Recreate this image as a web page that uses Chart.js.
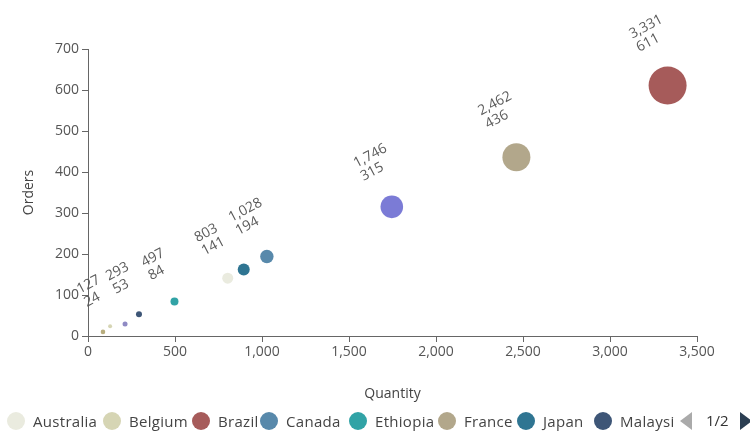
<!DOCTYPE html>
<html>
<head>
<meta charset="utf-8">
<script src="https://cdn.jsdelivr.net/npm/chart.js@4.4.0/dist/chart.umd.min.js"></script>
<style>
html,body{margin:0;padding:0;background:#fff;}
#wrap{position:relative;width:750px;height:437px;overflow:hidden;}
#c{position:absolute;left:0;top:0;}
#legend{position:absolute;left:0;top:409px;width:674px;height:24px;overflow:hidden;white-space:nowrap;font-family:"Open Sans",sans-serif;font-size:15px;letter-spacing:0.3px;color:#444;}
.item{position:absolute;top:0;height:24px;display:flex;align-items:center;}
.dot{width:18px;height:18px;border-radius:50%;margin-right:8px;flex:none;}
#pager{position:absolute;top:409px;left:678px;width:72px;height:24px;font-family:"Open Sans",sans-serif;font-size:15px;color:#333;}
#pager span{position:absolute;left:28px;top:1px;}
.tri{position:absolute;top:3px;width:0;height:0;border-top:9px solid transparent;border-bottom:9px solid transparent;}
#prev{left:2px;border-right:12px solid #aaaaaa;}
#next{left:62px;border-left:12px solid #2b3e52;}
</style>
</head>
<body>
<div id="wrap">
<canvas id="c" width="750" height="437"></canvas>
<div id="legend"></div>
<div id="pager"><div class="tri" id="prev"></div><span>1/2</span><div class="tri" id="next"></div></div>
</div>
<script>
// ---- data ----
const countries = ['Australia','Belgium','Brazil','Canada','Ethiopia','France','Japan','Malaysia','Mexico','Nigeria','Peru'];
const quantity  = [803, 127, 3331, 1028, 497, 2462, 895, 293, 1746, 213, 86];
const orders    = [141, 24, 611, 194, 84, 436, 162, 53, 315, 29, 10];
const sales     = [3025, 400, 36100, 4490, 1600, 19600, 3600, 900, 12770, 625, 530];
const colors    = ['#eaebdf','#d6d5b4','#a65b5a','#5889ab','#31a3a6','#b2a78b','#2f7592','#3e5677','#7b7bd6','#8f8ac4','#b8ad7e'];
const xTickStep = 500, xMax = 3500;
const yTickStep = 100, yMax = 700;
const legendPageCount = 8;

// ---- layout constants ----
const legendX = [7, 103, 192, 260, 349, 438, 517, 594];
const maxR = 19;
const FONT = '"Open Sans", sans-serif';

const sMax = Math.max(...sales);
const fmt = v => v.toLocaleString('en-US');

const datasets = countries.map((c, i) => ({
  label: c,
  data: [{x: quantity[i], y: orders[i], r: maxR * Math.sqrt(sales[i] / sMax)}],
  backgroundColor: colors[i],
  borderColor: colors[i],
  borderWidth: 0,
  clip: false
}));

const labelPlugin = {
  id: 'bubbleLabels',
  afterDatasetsDraw(chart) {
    const ctx = chart.ctx;
    const placed = [];
    const lh = 15;
    ctx.save();
    ctx.font = '14px ' + FONT;
    ctx.fillStyle = '#5a5a5a';
    chart.data.datasets.forEach((ds, i) => {
      const el = chart.getDatasetMeta(i).data[0];
      if (!el) return;
      const r = el.options.radius;
      const cx = el.x - 18, cy = el.y - r - 33;
      if (placed.some(p => Math.hypot(p[0] - cx, p[1] - cy) < 22)) return;
      placed.push([cx, cy]);
      const lines = [fmt(ds.data[0].x), fmt(ds.data[0].y)];
      const W = Math.max(...lines.map(l => ctx.measureText(l).width));
      ctx.save();
      ctx.translate(cx, cy);
      ctx.rotate(-28 * Math.PI / 180);
      ctx.textAlign = 'left';
      ctx.textBaseline = 'middle';
      lines.forEach((l, k) => ctx.fillText(l, -W / 2, (k - 0.5) * lh));
      ctx.restore();
    });
    ctx.restore();
  }
};

new Chart(document.getElementById('c'), {
  type: 'bubble',
  data: {datasets},
  options: {
    responsive: false,
    animation: false,
    events: [],
    layout: {padding: {left: 0, right: 53, top: 49, bottom: 0}, autoPadding: false},
    plugins: {legend: {display: false}, tooltip: {enabled: false}},
    scales: {
      x: {
        type: 'linear', min: 0, max: xMax,
        ticks: {stepSize: xTickStep, color: '#555', font: {family: FONT, size: 14}, padding: 2, maxRotation: 0},
        grid: {display: true, drawOnChartArea: false, drawTicks: true, tickLength: 6, color: '#666'},
        border: {display: true, color: '#666', width: 1},
        title: {display: true, text: 'Quantity', color: '#444', font: {family: FONT, size: 14}, padding: {top: 0, bottom: 35}},
        afterFit(s) { s.height = 101; }
      },
      y: {
        type: 'linear', min: 0, max: yMax,
        ticks: {stepSize: yTickStep, color: '#555', font: {family: FONT, size: 14}, padding: 3},
        grid: {display: true, drawOnChartArea: false, drawTicks: true, tickLength: 6, color: '#666'},
        border: {display: true, color: '#666', width: 1},
        title: {display: true, text: 'Orders', color: '#444', font: {family: FONT, size: 14}, padding: {top: 21, bottom: 0}},
        afterFit(s) { s.width = 88; }
      }
    }
  },
  plugins: [labelPlugin]
});

// ---- legend (page 1) ----
const leg = document.getElementById('legend');
countries.slice(0, legendPageCount).forEach((c, i) => {
  const it = document.createElement('div');
  it.className = 'item';
  it.style.left = legendX[i] + 'px';
  const d = document.createElement('div');
  d.className = 'dot';
  d.style.background = colors[i];
  const t = document.createElement('span');
  t.textContent = c;
  it.appendChild(d); it.appendChild(t);
  leg.appendChild(it);
});
</script>
</body>
</html>
